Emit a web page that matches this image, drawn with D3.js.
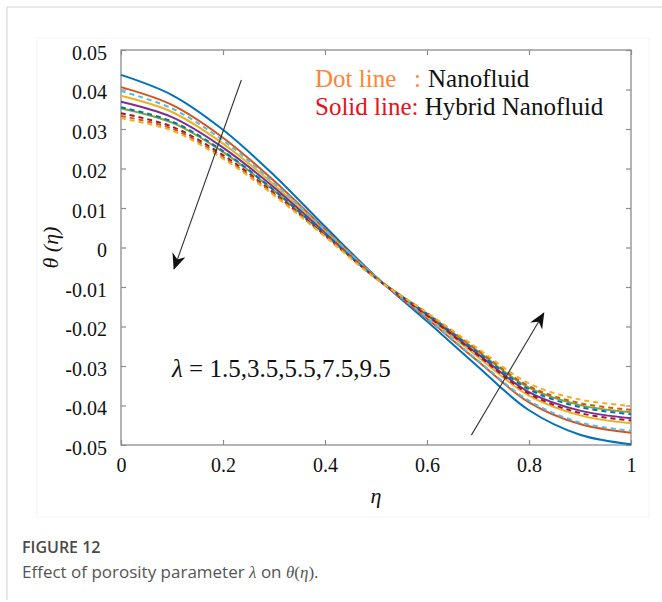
<!DOCTYPE html>
<html>
<head>
<meta charset="utf-8">
<script src="https://cdn.jsdelivr.net/npm/d3@7"></script>
<style>
  body { margin: 0; background: #fff; }
  svg { display: block; }
</style>
</head>
<body>
<svg id="fig" width="662" height="602"></svg>
<script>
// ---- data: temperature profile θ(η) for porosity parameter λ ----
const eta = [0, 0.1, 0.2, 0.3, 0.4, 0.5, 0.6, 0.7, 0.8, 0.9, 1.0];
const lambdas = [1.5, 3.5, 5.5, 7.5, 9.5];

// hybrid nanofluid (solid lines)
const hybrid15 = [0.0437, 0.0386, 0.0298, 0.0183, 0.0053, -0.0074, -0.0187, -0.0302, -0.0412, -0.0474, -0.0498];
const hybrid35 = [0.0406, 0.0361, 0.0278, 0.0169, 0.0046, -0.0075, -0.0180, -0.0288, -0.0392, -0.0447, -0.0469];
const hybrid55 = [0.0384, 0.0343, 0.0263, 0.0159, 0.0041, -0.0076, -0.0174, -0.0277, -0.0375, -0.0425, -0.0445];
const hybrid75 = [0.0369, 0.0330, 0.0253, 0.0152, 0.0037, -0.0077, -0.0170, -0.0270, -0.0366, -0.0413, -0.0432];
const hybrid95 = [0.0352, 0.0316, 0.0242, 0.0144, 0.0033, -0.0077, -0.0167, -0.0263, -0.0355, -0.0399, -0.0417];

// nanofluid (dashed lines)
const nano15 = [0.0396, 0.0352, 0.0271, 0.0164, 0.0044, -0.0075, -0.0178, -0.0286, -0.0388, -0.0443, -0.0464];
const nano35 = [0.0355, 0.0319, 0.0244, 0.0145, 0.0034, -0.0077, -0.0168, -0.0266, -0.0359, -0.0404, -0.0422];
const nano55 = [0.0340, 0.0306, 0.0234, 0.0138, 0.0031, -0.0078, -0.0172, -0.0273, -0.0370, -0.0419, -0.0438];
const nano75 = [0.0333, 0.0301, 0.0229, 0.0135, 0.0029, -0.0078, -0.0166, -0.0260, -0.0351, -0.0394, -0.0411];
const nano95 = [0.0327, 0.0296, 0.0225, 0.0132, 0.0028, -0.0079, -0.0165, -0.0256, -0.0344, -0.0385, -0.0401];

// axis ticks
const xTicks = [0, 0.2, 0.4, 0.6, 0.8, 1];
const xTickLabels = ["0", "0.2", "0.4", "0.6", "0.8", "1"];
const yTicks = [0.05, 0.04, 0.03, 0.02, 0.01, 0, -0.01, -0.02, -0.03, -0.04, -0.05];
const yTickLabels = ["0.05", "0.04", "0.03", "0.02", "0.01", "0", "-0.01", "-0.02", "-0.03", "-0.04", "-0.05"];

// trend arrows (data coordinates: [η, θ] tail → head)
const arrowDown = [[0.236, 0.0424], [0.104, -0.0054]];
const arrowUp = [[0.687, -0.0475], [0.829, -0.0166]];

// ---- styles ----
const hybridColors = ["#0072BD", "#D95319", "#EDB120", "#7E2F8E", "#77AC30"];
const nanoColors = ["#4DBEEE", "#0072BD", "#A2142F", "#D95319", "#EDB120"];

const hybridSeries = [hybrid15, hybrid35, hybrid55, hybrid75, hybrid95];
const nanoSeries = [nano15, nano35, nano55, nano75, nano95];

const svg = d3.select("#fig");
const serif = "'Liberation Serif', 'Times New Roman', serif";

// figure frame
svg.append("line").attr("x1", 7).attr("y1", 7).attr("x2", 662).attr("y2", 7)
  .attr("stroke", "#d2d2d2").attr("stroke-width", 1);
svg.append("line").attr("x1", 7).attr("y1", 7).attr("x2", 7).attr("y2", 600)
  .attr("stroke", "#d2d2d2").attr("stroke-width", 1);
svg.append("rect").attr("x", 37).attr("y", 38).attr("width", 612).attr("height", 479)
  .attr("fill", "none").attr("stroke", "#f4f4f4");

const x = d3.scaleLinear().domain([0, 1]).range([121, 631]);
const y = d3.scaleLinear().domain([-0.05, 0.05]).range([445, 50]);

const axisColor = "#8c8c8c";

// ticks (inward on all four sides)
const axBottom = svg.append("g").attr("transform", `translate(0,${y(-0.05)})`)
  .call(d3.axisBottom(x).tickValues(xTicks).tickSizeInner(-5).tickSizeOuter(0)
    .tickPadding(15).tickFormat((d, i) => xTickLabels[i]));
const axTop = svg.append("g").attr("transform", `translate(0,${y(0.05)})`)
  .call(d3.axisTop(x).tickValues(xTicks).tickSizeInner(-5).tickSizeOuter(0).tickFormat(""));
const axLeft = svg.append("g").attr("transform", `translate(${x(0)},0)`)
  .call(d3.axisLeft(y).tickValues(yTicks).tickSizeInner(-5).tickSizeOuter(0)
    .tickPadding(14).tickFormat((d, i) => yTickLabels[i]));
const axRight = svg.append("g").attr("transform", `translate(${x(1)},0)`)
  .call(d3.axisRight(y).tickValues(yTicks).tickSizeInner(-5).tickSizeOuter(0).tickFormat(""));

[axBottom, axTop, axLeft, axRight].forEach(g => {
  g.select(".domain").remove();
  g.selectAll(".tick line").attr("stroke", axisColor).attr("stroke-width", 1.2);
  g.selectAll("text").attr("font-family", serif).attr("font-size", 20).attr("fill", "#111");
});
axLeft.selectAll("text").attr("dy", "0.45em");
axBottom.selectAll("text").attr("dy", "0.62em");

// box
svg.append("rect")
  .attr("x", x(0)).attr("y", y(0.05))
  .attr("width", x(1) - x(0)).attr("height", y(-0.05) - y(0.05))
  .attr("fill", "none").attr("stroke", axisColor).attr("stroke-width", 1.3);

// curves
const line = d3.line()
  .x((d, i) => x(eta[i]))
  .y(d => y(d))
  .curve(d3.curveCatmullRom.alpha(0.5));

const curves = svg.append("g");
hybridSeries.forEach((vals, k) => {
  curves.append("path").attr("d", line(vals))
    .attr("fill", "none").attr("stroke", hybridColors[k]).attr("stroke-width", 2);
});
nanoSeries.forEach((vals, k) => {
  curves.append("path").attr("d", line(vals))
    .attr("fill", "none").attr("stroke", nanoColors[k]).attr("stroke-width", 2)
    .attr("stroke-dasharray", "5,4");
});

// arrows
const defs = svg.append("defs");
defs.append("marker").attr("id", "head")
  .attr("viewBox", "0 0 16 14").attr("refX", 15).attr("refY", 7)
  .attr("markerWidth", 16).attr("markerHeight", 14).attr("markerUnits", "userSpaceOnUse")
  .attr("orient", "auto")
  .append("path").attr("d", "M0,0 L16,7 L0,14 L5,7 Z").attr("fill", "#111");

[arrowDown, arrowUp].forEach(a => {
  svg.append("line")
    .attr("x1", x(a[0][0])).attr("y1", y(a[0][1]))
    .attr("x2", x(a[1][0])).attr("y2", y(a[1][1]))
    .attr("stroke", "#333").attr("stroke-width", 1.1)
    .attr("marker-end", "url(#head)");
});

// parameter annotation
const ann = svg.append("text")
  .attr("x", x(0.1)).attr("y", y(-0.0305)).attr("dy", "0.35em")
  .attr("font-family", serif).attr("font-size", 25).attr("fill", "#111");
ann.append("tspan").attr("font-style", "italic").text("λ");
ann.append("tspan").text(" = " + lambdas.join(","));

// legend text
const leg1 = svg.append("text").attr("x", 315).attr("y", 87)
  .attr("font-family", serif).attr("font-size", 25);
leg1.append("tspan").attr("fill", "#FF8533").text("Dot line");
leg1.append("tspan").attr("x", 414).attr("fill", "#FF8533").text(":");
leg1.append("tspan").attr("x", 428).attr("fill", "#111").text("Nanofluid");

const leg2 = svg.append("text").attr("x", 315).attr("y", 115)
  .attr("font-family", serif).attr("font-size", 25);
leg2.append("tspan").attr("fill", "#E8101A").text("Solid line:");
leg2.append("tspan").attr("fill", "#111").text(" Hybrid Nanofluid");

// axis titles
svg.append("text")
  .attr("transform", `translate(58,${y(0)}) rotate(-90)`)
  .attr("text-anchor", "middle")
  .attr("font-family", serif).attr("font-size", 22).attr("font-style", "italic").attr("fill", "#111")
  .text("θ (η)");
svg.append("text")
  .attr("x", x(0.5)).attr("y", 503).attr("text-anchor", "middle")
  .attr("font-family", serif).attr("font-size", 22).attr("font-style", "italic").attr("fill", "#111")
  .text("η");

// caption
const sans = "'Open Sans', 'Noto Sans', sans-serif";
svg.append("text").attr("x", 22).attr("y", 553)
  .attr("font-family", sans).attr("font-weight", 600).attr("font-size", 16)
  .attr("fill", "#4a4a4a").text("FIGURE 12");
const cap = svg.append("text").attr("x", 22).attr("y", 578)
  .attr("font-family", sans).attr("font-size", 17).attr("fill", "#555");
cap.append("tspan").text("Effect of porosity parameter ");
cap.append("tspan").attr("font-family", serif).attr("font-style", "italic").text("λ");
cap.append("tspan").text(" on ");
cap.append("tspan").attr("font-family", serif).attr("font-style", "italic").text("θ");
cap.append("tspan").attr("font-family", serif).text("(");
cap.append("tspan").attr("font-family", serif).attr("font-style", "italic").text("η");
cap.append("tspan").attr("font-family", serif).text(")");
cap.append("tspan").text(".");
</script>
</body>
</html>
